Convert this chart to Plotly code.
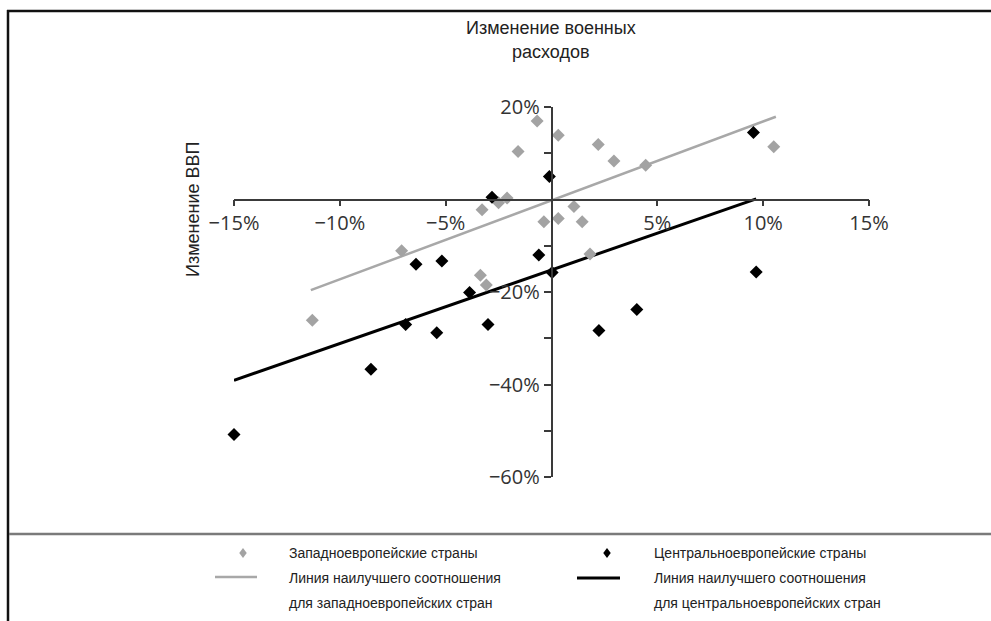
import plotly.graph_objects as go

# ---- data ----
west_x = [-0.68, 0.32, -1.58, -3.28, -2.5, -2.1, -0.36, 0.32, 1.06, 1.45, -7.08, -3.36, -3.08, 1.82, 2.21, 2.95, 4.45, 10.5, -11.3]
west_y = [17.0, 13.9, 10.4, -2.2, -0.7, 0.3, -4.8, -4.1, -1.5, -4.8, -11.1, -16.4, -18.5, -11.8, 11.9, 8.3, 7.4, 11.4, -26.1]

central_x = [-2.81, -0.1, -6.4, -5.18, -0.6, 0.03, -3.87, 9.54, 9.67, 4.03, -15.0, -8.53, -6.89, -5.42, -3.0, 2.24]
central_y = [0.5, 5.0, -14.0, -13.3, -12.0, -15.8, -20.1, 14.5, -15.7, -23.8, -50.8, -36.7, -27.0, -28.8, -27.0, -28.3]

west_fit_x = [-11.37, 10.6]
west_fit_y = [-19.6, 17.9]
central_fit_x = [-15.0, 9.67]
central_fit_y = [-39.1, 0.15]

x_ticks = [-15, -10, -5, 5, 10, 15]
y_ticks = [20, -20, -40, -60]
y_minor = [10, -10, -30, -50]

x_title = "Изменение военных<br>расходов"
y_title = "Изменение ВВП"
legend_labels = ["Западноевропейские страны", "Центральноевропейские страны",
                 "Линия наилучшего соотношения<br>для западноевропейских стран",
                 "Линия наилучшего соотношения<br>для центральноевропейских стран"]

# ---- layout geometry ----
W, H = 991, 621
L, R, T, B = 234, 869, 107, 477
GRAY_M = "#a3a3a3"
GRAY_L = "#a8a8a8"
AX = "#3a3a3a"
NARROW = "Liberation Sans Narrow, Arial Narrow, Liberation Sans, sans-serif"
TICKF = "Open Sans, Liberation Sans, sans-serif"


def px(x):
    return (x - L) / (R - L)


def py(y):
    return (B - y) / (B - T)


def fmt(v):
    return ("\u2212" if v < 0 else "") + f"{abs(v)}%"


fig = go.Figure()
fig.add_trace(go.Scatter(x=west_fit_x, y=west_fit_y, mode="lines",
                         line=dict(color=GRAY_L, width=2.5), cliponaxis=False, showlegend=False))
fig.add_trace(go.Scatter(x=central_fit_x, y=central_fit_y, mode="lines",
                         line=dict(color="#000000", width=3), cliponaxis=False, showlegend=False))
fig.add_trace(go.Scatter(x=west_x, y=west_y, mode="markers",
                         marker=dict(symbol="diamond", size=10, color=GRAY_M), cliponaxis=False, showlegend=False))
fig.add_trace(go.Scatter(x=central_x, y=central_y, mode="markers",
                         marker=dict(symbol="diamond", size=10, color="#000000"), cliponaxis=False, showlegend=False))

fig.update_layout(
    width=W, height=H,
    margin=dict(l=L, r=W - R, t=T, b=H - B),
    paper_bgcolor="white", plot_bgcolor="white",
    showlegend=False,
    xaxis=dict(range=[-15, 15], domain=[0, 1], anchor="free", position=60 / 80,
               showgrid=False, zeroline=False, showline=True, linecolor=AX, linewidth=1.5,
               tickvals=x_ticks, ticktext=[fmt(v) for v in x_ticks],
               ticks="outside", ticklen=6, tickwidth=1.5, tickcolor=AX,
               tickfont=dict(family=TICKF, size=20, color="#333333")),
    yaxis=dict(range=[-60, 20], domain=[0, 1], anchor="free", position=0.5,
               showgrid=False, zeroline=False, showline=True, linecolor=AX, linewidth=1.5,
               tickvals=y_ticks, ticktext=[fmt(v) for v in y_ticks],
               ticks="outside", ticklen=7, tickwidth=1.5, tickcolor=AX,
               minor=dict(tickvals=y_minor, ticks="outside", ticklen=7, tickwidth=1.5, tickcolor=AX),
               tickfont=dict(family=TICKF, size=20, color="#333333")),
)

shapes = []
# frame
shapes.append(dict(type="line", xref="paper", yref="paper", x0=px(7), x1=px(991), y0=py(11), y1=py(11),
                   line=dict(color="#111111", width=2.5)))
shapes.append(dict(type="line", xref="paper", yref="paper", x0=px(8), x1=px(8), y0=py(10), y1=py(621),
                   line=dict(color="#111111", width=2.5)))
shapes.append(dict(type="line", xref="paper", yref="paper", x0=px(9), x1=px(991), y0=py(534), y1=py(534),
                   line=dict(color="#7a7a7a", width=2.5)))
# legend line samples
shapes.append(dict(type="line", xref="paper", yref="paper", x0=px(215), x1=px(257), y0=py(577), y1=py(577),
                   line=dict(color=GRAY_L, width=2.5)))
shapes.append(dict(type="line", xref="paper", yref="paper", x0=px(577), x1=px(620), y0=py(578), y1=py(578),
                   line=dict(color="#000000", width=3)))


def diamond(cx, cy, r, color):
    return dict(type="path", xref="paper", yref="paper",
                path=f"M {px(cx)} {py(cy - r)} L {px(cx + r * 0.75)} {py(cy)} L {px(cx)} {py(cy + r)} L {px(cx - r * 0.75)} {py(cy)} Z",
                fillcolor=color, line=dict(width=0))


shapes.append(diamond(243, 553, 5, GRAY_M))
shapes.append(diamond(607, 553, 5, "#000000"))
fig.update_layout(shapes=shapes)

ann = []
for i, line in enumerate(x_title.split("<br>")):
    ann.append(dict(text=line, xref="paper", yref="paper", x=px(551), y=py(28 + 24 * i), xanchor="center",
                    yanchor="middle", showarrow=False, font=dict(family=NARROW, size=18, color="#222222")))
ann.append(dict(text=y_title, xref="paper", yref="paper", x=px(193), y=py(210), xanchor="center", yanchor="middle",
                textangle=-90, showarrow=False, font=dict(family=NARROW, size=18, color="#222222")))
leg_pos = [(287, 553), (652, 553), (287, 578), (652, 578)]
for lab, (lx, ly) in zip(legend_labels, leg_pos):
    for i, line in enumerate(lab.split("<br>")):
        ann.append(dict(text=line, xref="paper", yref="paper", x=px(lx), y=py(ly + 25 * i), xanchor="left",
                        yanchor="middle", align="left", showarrow=False,
                        font=dict(family=NARROW, size=14, color="#222222")))
fig.update_layout(annotations=ann)

fig.write_html("out.html")
